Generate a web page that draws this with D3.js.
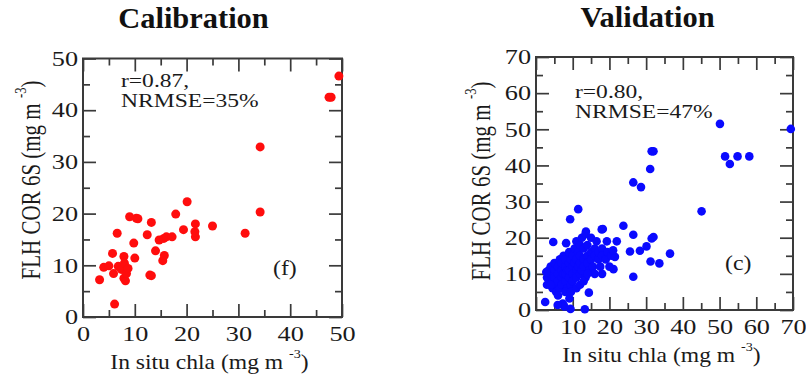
<!DOCTYPE html>
<html>
<head>
<meta charset="utf-8">
<title>FLH COR 6S vs in situ chla</title>
<script src="https://d3js.org/d3.v7.min.js"></script>
<style>
  html, body { margin: 0; padding: 0; background: #fff; }
  svg { display: block; }
  svg text { font-family: "Liberation Serif", "Times New Roman", Times, serif; }
</style>
</head>
<body>
<svg id="chart" width="806" height="383"></svg>
<script>
// calibration points (red)
const calX = [3.2,4.0,5.0,5.7,5.9,6.1,6.6,6.8,7.4,7.9,8.0,7.9,8.2,8.4,8.7,9.0,9.8,10.0,10.3,10.6,12.4,12.9,13.2,13.2,14.0,14.7,15.4,15.7,15.6,16.1,17.2,17.9,19.4,20.1,21.7,21.7,21.6,25.0,31.3,34.2,34.2,47.5,47.9,49.4]
const calY = [7.2,9.6,9.9,12.3,8.4,2.5,16.2,9.8,9.2,11.7,10.4,7.5,7.0,8.4,9.4,19.4,14.3,11.4,19.1,19.0,15.9,8.1,8.0,18.3,12.8,14.9,10.9,11.9,15.2,15.5,15.5,19.9,16.9,22.3,18.0,15.5,16.5,17.6,16.2,20.3,32.9,42.5,42.5,46.6]

// validation points (blue): scattered ones
const valX = [50.1,69.4,51.5,52.8,54.9,58.1,32.0,31.5,31.1,26.5,28.6,45.1,23.8,18.2,26.5,32.0,31.5,19.3,22.0,36.5,25.6,28.3,30.1,11.5,9.3,4.7,8.2,2.5,13.3,9.4,7.3,14.4,26.5,33.6,21.5,21.1,17.9,13.6,31.2,7.7,5.9,9.1]
const valY = [51.5,50.1,42.5,40.4,42.5,42.5,43.9,43.9,39.0,35.3,34.0,27.3,23.3,22.4,20.8,20.2,19.8,19.0,19.0,15.6,16.2,16.4,17.6,27.9,25.1,18.8,18.5,2.2,0.2,0.3,1.8,4.8,9.2,12.9,14.7,11.3,22.3,21.7,13.4,1.0,1.4,3.2]
// validation points (blue): the dense cluster
const valBlobX = [3,3.5,3,4,4,4.5,4.5,5,5,5,5.5,5.5,6,6,6,6.5,6.5,7,7,7,7,7.5,7.5,8,8,8,8,8.5,8.5,9,9,9,9,9.5,9.5,10,10,10,10,10.5,10.5,11,11,11,11,11.5,11.5,12,12,12,12,12.5,12.5,13,13,13,13.5,13.5,14,14,14,14.5,15,15,15,15.5,16,16,16.5,17,17,17.5,18,18,19,19.5,20,20.5,6,8,9.5,11,12,2.8,4,13,16,18,14,21]
const valBlobY = [9,11,7,10,12,8,6,11,9,13,7,5,10,12,8,14,6,11,9,13,7,10,15,12,8,10,14,6,11,13,9,16,11,7,14,12,10,15,8,17,13,11,14,9,19,16,12,13,10,18,15,20,11,14,17,12,21,9,15,18,13,11,16,20,14,12,17,15,19,14,16,12,17,15,14,16,12,15,4,5,5,6,7,10.5,7,8,10,10,10,16.5]

const calTicks = [0,10,20,30,40,50]
const valTicks = [0,10,20,30,40,50,60,70]

const svg = d3.select('#chart')
const ink = '#3a3a3a'
const serif = '"Liberation Serif", "Times New Roman", Times, serif'

function stretched(g, x, y, str, size, sx, anchor) {
  return g.append('text')
    .attr('transform', `translate(${x},${y}) scale(${sx},1)`)
    .attr('text-anchor', anchor)
    .attr('font-family', serif)
    .attr('font-size', size)
    .attr('fill', '#1a1a1a')
    .text(str)
}

function unitLabel(g, x, y, size, sx, rot, before) {
  const t = g.append('text')
    .attr('transform', `translate(${x},${y}) scale(${sx},1)` + (rot ? ' rotate(-90)' : ''))
    .attr('text-anchor', 'middle')
    .attr('font-family', serif)
    .attr('font-size', size)
    .attr('fill', '#1a1a1a')
  t.append('tspan').text(before + ' (mg m ')
  t.append('tspan').attr('dy', -11).attr('font-size', size * 0.6).text('-3')
  t.append('tspan').attr('dy', 11).text(')')
}

function panel(o) {
  const g = svg.append('g')
  const max = o.ticks[o.ticks.length - 1]
  const x = d3.scaleLinear().domain([0, max]).range([o.left, o.right])
  const y = d3.scaleLinear().domain([0, max]).range([o.bottom, o.top])
  const minor = d3.range(5, max, 10)

  const axes = [
    [d3.axisBottom(x), `translate(0,${o.bottom})`, true, true],
    [d3.axisTop(x), `translate(0,${o.top})`, false, true],
    [d3.axisLeft(y), `translate(${o.left},0)`, true, false],
    [d3.axisRight(y), `translate(${o.right},0)`, false, false]
  ]
  axes.forEach(([ax, tr, lab, isX]) => {
    // minor ticks
    g.append('g').attr('transform', tr)
      .call(ax.tickValues(minor).tickSize(-7).tickFormat(''))
      .call(a => a.select('.domain').remove())
      .selectAll('line').attr('stroke', ink).attr('stroke-width', 1.7)
    // major ticks
    const m = g.append('g').attr('transform', tr)
      .call(ax.tickValues(o.ticks).tickSize(-13).tickPadding(isX ? 9 : 4)
        .tickFormat(lab ? d3.format('d') : ''))
      .attr('font-size', null).attr('font-family', serif)
      .call(a => a.select('.domain').remove())
    m.selectAll('line').attr('stroke', ink).attr('stroke-width', 1.7)
    m.selectAll('text').attr('font-size', 21).attr('fill', '#1a1a1a')
      .attr('font-family', serif)
      .attr('transform', 'scale(1.25,1)')
  })

  g.append('rect')
    .attr('x', o.left).attr('y', o.top)
    .attr('width', o.right - o.left).attr('height', o.bottom - o.top)
    .attr('fill', 'none').attr('stroke', ink).attr('stroke-width', 2)

  const pts = d3.zip(o.xs, o.ys)
  g.selectAll('circle.pt').data(pts).enter().append('circle')
    .attr('class', 'pt')
    .attr('cx', d => x(d[0])).attr('cy', d => y(d[1]))
    .attr('r', o.r).attr('fill', o.color)

  g.append('text')
    .attr('transform', `translate(${o.titleX},${o.titleY}) scale(1.05,1)`)
    .attr('text-anchor', 'middle').attr('font-size', 29).attr('font-weight', 'bold')
    .attr('font-family', serif)
    .attr('fill', '#111').text(o.title)

  stretched(g, o.statX, o.statY, o.r1, 19, 1.24, 'start')
  stretched(g, o.statX, o.statY + 20, o.r2, 19, 1.24, 'start')
  stretched(g, o.tagX, o.tagY, o.tag, 20, 1.19, 'start')

  unitLabel(g, (o.left + o.right) / 2 - 3, o.bottom + 52, 20, 1.18, false, 'In situ chla')
  unitLabel(g, o.ylabX, o.ylabY, 21, 1.3, true, 'FLH COR 6S')
}

panel({
  left: 83, right: 342, top: 58.5, bottom: 317, ticks: calTicks,
  xs: calX, ys: calY, color: '#ff0d0d', r: 4.5,
  title: 'Calibration', titleX: 193.5, titleY: 28,
  r1: 'r=0.87,', r2: 'NRMSE=35%', statX: 121, statY: 87,
  tag: '(f)', tagX: 273, tagY: 275,
  ylabX: 40, ylabY: 180
})

panel({
  left: 536, right: 793, top: 57, bottom: 310, ticks: valTicks,
  xs: valX.concat(valBlobX), ys: valY.concat(valBlobY), color: '#0a0aff', r: 4.3,
  title: 'Validation', titleX: 647.5, titleY: 27,
  r1: 'r=0.80,', r2: 'NRMSE=47%', statX: 575, statY: 98,
  tag: '(c)', tagX: 725, tagY: 270,
  ylabX: 490, ylabY: 181
})
</script>
</body>
</html>
